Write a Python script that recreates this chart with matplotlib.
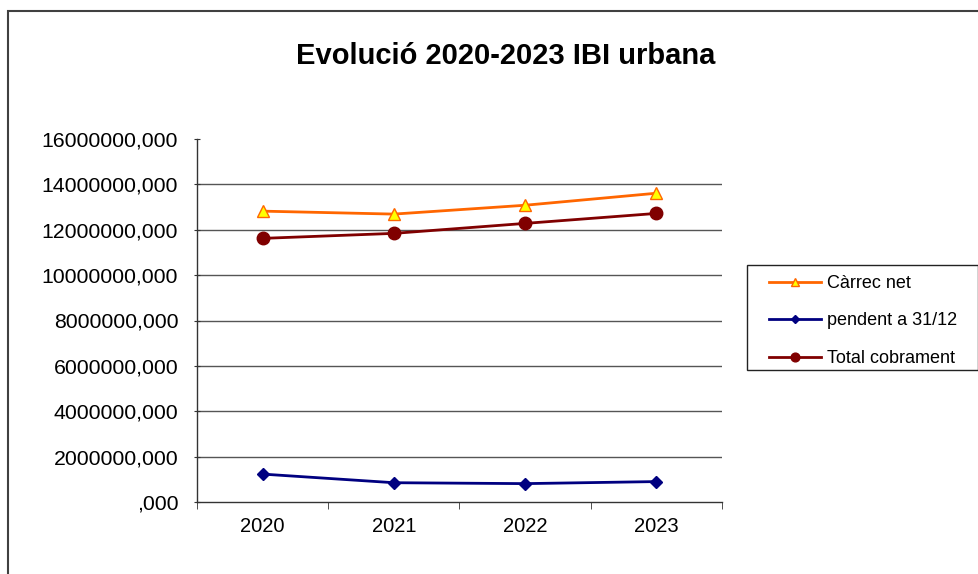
import numpy as np
import matplotlib.pyplot as plt
from matplotlib.patches import Rectangle
from matplotlib.ticker import FuncFormatter

plt.rcParams['font.family'] = ['Liberation Sans', 'DejaVu Sans']

years = ['2020', '2021', '2022', '2023']
carrec_net = [12820000, 12690000, 13080000, 13610000]
pendent = [1230000, 850000, 810000, 900000]
total_cobrament = [11620000, 11840000, 12280000, 12720000]

W, H = 979, 574
fig = plt.figure(figsize=(W / 100, H / 100), dpi=100)

# outer chart border (right/bottom edges fall outside the picture)
fig.patches.append(Rectangle((8 / W, -0.1), 1.0, 1.1 - 11 / H, transform=fig.transFigure,
                             fill=False, edgecolor='#404040', linewidth=1.5))
# legend box
fig.patches.append(Rectangle((747 / W, 1 - 370 / H), (978 - 747) / W, 105 / H,
                             transform=fig.transFigure, fill=False,
                             edgecolor='#222222', linewidth=1))

ax = fig.add_axes([197 / W, (H - 502) / H, (722 - 197) / W, (502 - 139) / H])
x = np.arange(len(years))

ax.plot(x, carrec_net, color='#ff6600', lw=2, marker='^', ms=8,
        mfc='#ffff00', mec='#ff6600', mew=1, label='Càrrec net', zorder=3)
ax.plot(x, pendent, color='#000080', lw=2, marker='D', ms=6.5,
        mfc='#000080', mec='#000080', label='pendent a 31/12', zorder=3)
ax.plot(x, total_cobrament, color='#800000', lw=2, marker='o', ms=9,
        mfc='#800000', mec='#800000', label='Total cobrament', zorder=3)

ax.set_xlim(-0.5, 3.5)
ax.set_ylim(0, 16000000)
ax.set_yticks(np.arange(0, 16000001, 2000000))
ax.yaxis.set_major_formatter(FuncFormatter(lambda v, p: ('%d' % v if v else '') + ',000'))
for v in range(2000000, 16000000, 2000000):
    ax.axhline(v, color='#555555', lw=1, zorder=1)

ax.set_xticks(x)
ax.set_xticklabels(years)
ax.set_xticks(np.arange(-0.5, 4, 1), minor=True)
ax.tick_params(axis='x', which='major', length=0, labelsize=14.5, pad=11)
ax.tick_params(axis='x', which='minor', length=5, direction='out', color='#333333')
ax.tick_params(axis='y', length=5, direction='inout', labelsize=15.3, pad=11, color='#333333')

for s in ['top', 'right']:
    ax.spines[s].set_visible(False)
for s in ['left', 'bottom']:
    ax.spines[s].set_color('#333333')
    ax.spines[s].set_linewidth(1)

fig.text(0.517, 1 - 56 / H, 'Evolució 2020-2023 IBI urbana', ha='center', va='center',
         fontsize=21, fontweight='bold')

fig.legend(loc='center left', bbox_to_anchor=(769 / W, 1 - 321 / H), fontsize=13,
           frameon=False, labelspacing=1.13, handlelength=2.9, borderpad=0,
           handletextpad=0.3, markerscale=0.7, borderaxespad=0)

fig.savefig('out.png', dpi=100)
